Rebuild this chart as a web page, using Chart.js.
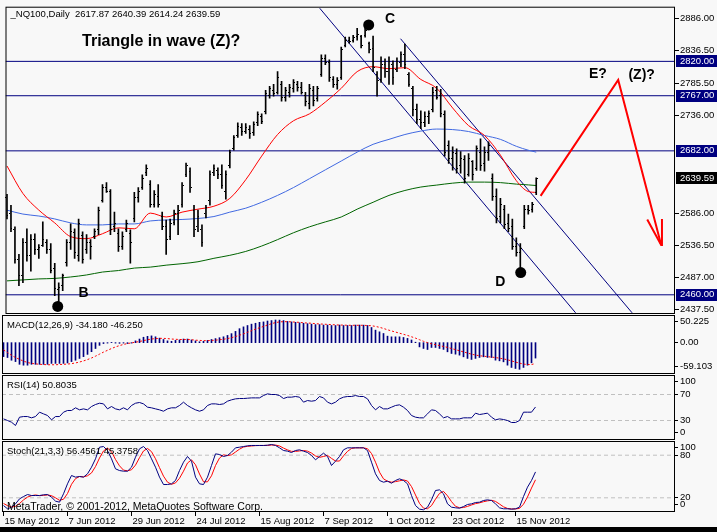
<!DOCTYPE html>
<html>
<head>
<meta charset="utf-8">
<title>NQ100 Daily</title>
<script src="https://cdn.jsdelivr.net/npm/chart.js@4.4.1/dist/chart.umd.min.js"></script>
<style>
  html, body { margin: 0; padding: 0; background: #f8f8f8; }
  #wrap { position: relative; width: 717px; height: 532px; overflow: hidden; background: #f8f8f8; }
  #wrap canvas { position: absolute; left: 0; top: 0; }
  #edge { position: absolute; left: 0; top: 527px; width: 717px; height: 5px; background: #000; }
</style>
</head>
<body>
<div id="wrap">
  <canvas id="main" width="717" height="532"></canvas>
  <canvas id="macd" width="717" height="532"></canvas>
  <canvas id="rsi" width="717" height="532"></canvas>
  <canvas id="stoch" width="717" height="532"></canvas>
  <div id="edge"></div>
</div>
<script>
// one bar per trading day, bar 0 = 15 May 2012
const dateLabels = ['15 May 2012', '7 Jun 2012', '29 Jun 2012', '24 Jul 2012', '15 Aug 2012',
                    '7 Sep 2012', '1 Oct 2012', '23 Oct 2012', '15 Nov 2012'];
const dateBars = [0, 16, 32, 48, 64, 80, 96, 112, 128];

const opens = [2610,2585,2560,2514,2490,2540,2520,2545,2530,2536,
  2540,2530,2500,2468,2474,2510,2540,2556,2520,2552,
  2530,2540,2550,2560,2605,2625,2620,2565,2555,2535,
  2560,2555,2578,2610,2625,2648,2630,2600,2612,2580,
  2565,2550,2572,2585,2600,2645,2650,2590,2565,2560,
  2585,2605,2648,2652,2645,2620,2660,2685,2705,2718,
  2712,2715,2710,2725,2735,2742,2768,2775,2772,2785,
  2765,2772,2778,2785,2780,2768,2755,2775,2762,2800,
  2824,2818,2792,2785,2795,2845,2852,2852,2858,2858,
  2860,2848,2840,2800,2792,2815,2805,2815,2808,2818,
  2830,2800,2778,2745,2730,2725,2735,2745,2775,2768,
  2738,2690,2670,2678,2660,2668,2645,2665,2655,2680,
  2662,2680,2640,2612,2580,2592,2570,2565,2535,2525,
  2565,2592,2592,2617.87];
const highs = [2614.8,2598.1,2564.8,2522.4,2546.6,2561.8,2552.7,2554.2,2537.5,2572.4,
  2545.1,2539.0,2508.7,2478.4,2492.1,2545.1,2569.4,2561.8,2576.9,2557.2,
  2552.7,2545.1,2561.8,2595.1,2629.9,2633.0,2622.4,2587.5,2561.8,2557.2,
  2575.4,2560.3,2617.9,2625.4,2645.1,2660.3,2636.0,2620.9,2629.9,2587.5,
  2575.4,2576.9,2590.6,2598.1,2633.0,2663.3,2655.7,2598.1,2590.6,2567.9,
  2598.1,2651.2,2660.3,2655.7,2660.3,2651.2,2683.0,2705.7,2725.4,2723.9,
  2723.9,2720.9,2726.9,2742.1,2739.0,2775.4,2781.5,2784.5,2804.2,2789.1,
  2780.0,2784.5,2792.1,2789.1,2787.6,2772.4,2784.5,2781.5,2781.5,2830.0,
  2830.0,2822.4,2796.6,2795.1,2842.1,2857.3,2857.3,2860.3,2870.9,2860.3,
  2872.0,2849.7,2858.8,2804.2,2827.0,2824.0,2827.0,2821.0,2825.5,2834.6,
  2846.7,2802.7,2781.5,2754.2,2743.6,2742.1,2743.6,2780.0,2781.5,2777.0,
  2743.6,2697.5,2688.3,2685.3,2680.8,2674.7,2677.7,2667.1,2689.9,2700.4,
  2688.3,2695.9,2646.6,2623.4,2608.6,2598.1,2584.5,2576.9,2548.0,2539.0,
  2598.1,2598.1,2602.7,2640.39];
const lows = [2576.9,2557.2,2508.7,2473.9,2478.6,2511.8,2496.6,2522.4,2516.3,2534.5,
  2523.9,2493.6,2458.7,2448.1,2466.3,2504.1,2530.0,2516.3,2511.8,2508.7,
  2523.9,2514.8,2546.6,2552.7,2602.7,2617.8,2552.7,2557.2,2526.9,2529.9,
  2557.2,2508.7,2572.4,2602.7,2622.4,2643.6,2595.1,2595.1,2595.1,2560.3,
  2522.4,2545.1,2567.9,2552.7,2595.1,2642.1,2617.8,2549.6,2557.2,2534.5,
  2578.4,2598.1,2643.6,2639.1,2623.9,2607.3,2655.7,2683.0,2702.7,2705.7,
  2708.7,2701.2,2705.7,2720.9,2723.9,2739.0,2763.3,2766.3,2769.3,2758.8,
  2758.8,2764.8,2772.4,2773.9,2769.3,2751.2,2746.6,2751.2,2758.8,2796.6,
  2814.8,2789.1,2779.9,2777.0,2792.1,2842.1,2848.2,2849.7,2852.7,2840.6,
  2857.3,2833.0,2804.2,2766.3,2787.6,2795.1,2784.5,2784.5,2804.2,2811.9,
  2808.9,2781.5,2736.0,2723.9,2716.3,2719.4,2723.9,2742.1,2761.8,2734.5,
  2673.9,2662.8,2652.3,2647.5,2647.5,2632.3,2642.8,2636.9,2652.0,2652.0,
  2650.5,2667.1,2605.7,2570.9,2570.9,2561.8,2557.2,2529.9,2519.4,2493.6,
  2561.8,2584.5,2587.5,2614.24];
const closes = [2582,2562,2515,2490,2540,2520,2545,2530,2533,2545,
  2530,2498,2470,2472,2490,2540,2558,2525,2570,2515,
  2540,2535,2558,2590,2625,2620,2560,2570,2535,2550,
  2570,2540,2610,2620,2640,2655,2600,2615,2600,2565,
  2545,2570,2585,2590,2628,2660,2625,2560,2580,2540,
  2595,2645,2655,2645,2628,2645,2680,2703,2720,2712,
  2718,2708,2722,2738,2728,2770,2778,2770,2795,2765,
  2775,2780,2788,2780,2772,2758,2778,2760,2778,2825,
  2818,2795,2785,2790,2838,2852,2850,2857,2862,2845,
  2868,2838,2810,2790,2815,2805,2820,2795,2820,2830,
  2815,2785,2745,2730,2725,2735,2740,2772,2765,2740,
  2680,2670,2680,2655,2670,2640,2670,2645,2685,2660,
  2680,2690,2612,2578,2600,2568,2562,2535,2525,2532,
  2592,2590,2600,2639.59];

// moving averages read at these bars
const maBars = [0,4,8,12,16,20,24,28,32,36,40,44,48,52,56,60,64,68,72,76,80,
  84,88,92,96,100,104,108,112,116,120,124,128,131,133];
const maFast = [2658.7,2616.3,2590.6,2570.9,2549.7,2546.6,2554.2,2563.3,2561.8,2586.0,
  2580.0,2587.5,2592.1,2596.6,2608.7,2637.5,2673.9,2707.2,2728.4,2739.0,
  2757.2,2778.4,2804.2,2811.8,2808.7,2810.3,2792.1,2778.4,2748.1,2720.9,
  2705.7,2675.4,2636.0,2619.3,2617.9];
const maMid = [2590.6,2584.5,2581.5,2577.0,2570.9,2567.8,2567.8,2569.3,2569.3,2573.9,
  2575.4,2576.2,2577.7,2580.7,2587.5,2593.6,2602.7,2613.3,2625.4,2639.0,
  2652.7,2666.3,2680.0,2692.1,2699.7,2707.2,2712.5,2715.6,2714.8,2711.8,
  2705.7,2699.7,2689.0,2683.0,2680.0];
const maSlow = [2481.5,2483.0,2484.5,2485.3,2487.5,2490.6,2495.1,2497.4,2501.2,2502.7,
  2505.7,2508.0,2511.0,2516.3,2520.9,2526.9,2535.2,2545.1,2555.7,2564.8,
  2572.4,2580.0,2592.1,2602.7,2613.3,2620.9,2626.2,2629.2,2632.2,2633.8,
  2633.8,2633.0,2630.7,2629.5,2628.5];

const levels = [2820, 2767, 2682, 2460];
const priceTicks = [2886, 2836.5, 2785.5, 2736, 2586, 2536.5, 2487, 2437.5];

// channel lines
const chanABars = [78.6, 142.9];
const chanAPrices = [2901.9, 2432.2];
const chanBBars = [98.9, 157.1];
const chanBPrices = [2854.9, 2432.2];

// projected path E? -> (Z)?
const projBars = [134.1, 153.6, 164.4];
const projPrices = [2612.5, 2791.3, 2536.7];
const arrowBars = [160.9, 164.4, 164.6];
const arrowPrices = [2576.1, 2536.7, 2576.9];

// wave pivots B, C, D
const dotBars = [12.75, 90.9, 129.1];
const dotPrices = [2442.0, 2876.2, 2494.3];

const noteTexts = ['Triangle in wave (Z)?', 'B', 'C', 'D', 'E?', '(Z)?'];
const noteBars = [38.75, 19.25, 96.25, 124, 148.5, 159.5];
const notePrices = [2850.4, 2462.5, 2885.2, 2479.2, 2800.4, 2798.1];

const macdMain = [-31,-33,-39,-42,-48,-50,-50,-48,-48,-48,
  -48,-48,-46,-46,-46,-46,-45,-42,-39,-35,
  -31,-26,-20,-13,-6,-2,-1,0.5,-1,-1.5,
  -1,-2,-1,4,8,12,14,15,13,10,
  7,4,3,5,6,8,8,6,4,2,
  3,5,7,9,11,13,16,20,25,31,
  35,38,41,43,45,46,48,49,50.225,50,
  49,47,46,45,44,43,42,41,40,40,
  39,39,38,38,39,38,38,38,39,39,
  38.8,38,33.6,27.7,24,20.3,14.4,12.9,12.9,12.9,
  11.5,9.4,5.9,1,-9.4,-12.9,-15.2,-10.7,-10.7,-12.9,
  -15,-20.3,-24,-25.5,-27.7,-31.4,-35,-37.3,-35,-32.9,
  -31.4,-32.9,-32.9,-38.8,-40.3,-42.5,-49.9,-55,-57.3,-59.103,
  -55,-50,-44.7,-34.18];
const macdSignal = [-16,-22,-28,-33,-37,-41,-44,-46,-47,-48,
  -48.5,-49,-49,-49,-48.5,-48,-47.5,-46.5,-45,-43,
  -40.5,-37.5,-34,-30,-25.5,-21,-17,-13,-9.5,-6.5,
  -4,-2,-0.5,1,2.5,4.5,6.5,8,9,9.5,
  9.5,9,8,7.5,7,7,7,6.5,5.5,5,
  4.5,4.5,5,5.5,6.5,7.5,9,11,13.5,16.5,
  19.5,23,26.5,30,33,36,39,42,44.5,46,
  46.5,46.5,46,45.5,45,44,43.5,43,42,41.5,
  41,40.5,40,39.5,39,39,38.5,38.5,38.5,38.5,
  38.5,38,37.5,36,34,31.5,28.5,26,23.5,21,
  18.5,16,13,10,6.5,3,0,-2.5,-4.5,-6.5,
  -8.5,-10.5,-13,-15.5,-18,-20.5,-23,-25.5,-27.5,-29,
  -30,-31,-32,-33,-34.5,-36,-38,-40.5,-43,-45.5,
  -47.5,-48.5,-48.5,-46.25];
const macdTicks = [50.225, 0, -59.103];
const macdTickText = ['50.225', '0.00', '-59.103'];

const rsi = [32.5,30,27.4,22.3,35.1,36.1,36.1,34.1,36.1,42.8,
  40.2,37.7,31,36.1,36.1,42.8,45.4,45.4,49.5,46.4,
  47.9,46.4,51.5,54.6,56.6,55.6,47.9,51.5,47.9,46.4,
  49.5,46.4,53.1,56.6,57.7,55.6,50.5,49.5,47.9,46.4,
  44.3,47.9,49.5,49.5,53.1,58.2,53.1,49.5,46.4,44.3,
  46.4,53.1,55.6,55.6,54.6,55.6,59.7,61.8,63.3,63.8,
  63.8,64.3,64.8,64.8,64.8,68.4,71,70,70,68.4,
  63.8,65.9,65.9,66.9,65.9,58.2,60.7,59.7,60.7,66.9,
  64.8,58.2,55.6,58.2,63.3,65.9,66.9,66.9,68.4,66.9,
  66.9,63.3,53.1,46.4,51.5,47.9,47.9,50.5,53.1,54.1,
  50.5,45.4,37.7,35.1,34.1,34.1,40.2,46.4,45.4,40.2,
  34.1,36.1,32.5,32.5,32.5,34.1,34.1,34.1,41.3,39.2,
  40.2,41.3,35.1,31,32.5,31.5,30,26.9,26.9,30,
  42.8,42.8,42.8,50.8035];
const rsiLevels = [70, 30];
const rsiTicks = [100, 70, 30, 0];

const stochMain = [9.1,4.5,6.8,11.5,18.5,21.8,24.6,23.2,23.2,23.2,
  24.2,24.6,20.9,15.3,13.8,25.6,39.7,51.4,49.1,50,
  49.1,53.8,63.1,74.9,91.3,92.2,86.6,74.9,60.8,58.4,
  57.5,57.5,63.1,77.2,89,92.2,86.6,74.9,63.1,49.1,
  38.7,38.7,39.7,44.4,58.4,70.2,78.2,71.6,49.1,39.7,
  38.7,49.1,65.5,81.9,81,78.2,79.6,84.3,90.4,91.3,
  92.2,93.2,93.7,93.7,93.7,93.7,94.1,95.1,93.7,90.4,
  86.6,85.7,83.8,86.6,87.6,85.7,83.8,79.6,73.5,78.2,
  82.9,78.2,65.5,71.6,78.2,87.6,90.4,90.4,90.4,90.4,
  90.4,86.6,70.2,53.8,44.4,42,43.4,40.6,44.4,46.7,
  44.4,39.7,23.2,9.1,4,3.1,6.8,17.1,30.3,31.2,
  25.6,11.5,6.8,5.9,5.4,7.7,10.6,11.5,13.4,13.8,
  16.2,17.1,16.2,11.5,5.9,4.5,4.5,4,4.5,6.8,
  21.8,35,44.4,56.4561];
const stochSignal = [12,9,7,8,12,17,21,23,24,23,
  23.5,24,23,20,16.5,18,26,39,47,50,
  49.5,51,55,64,76,86,90,85,74,65,
  59,58,59.5,66,76.5,86,89.5,85,75,62.5,
  50.5,42,39,41,47.5,57.5,69,73.5,66.5,53.5,
  42.5,42.5,51,65.5,76,80.5,79.5,80.5,84.5,88.5,
  91.5,92.5,93,93.5,93.7,93.7,93.8,94.3,94.3,93,
  90,87.5,85.4,85.4,86,86.6,85.7,83,79,77,
  78.2,79.7,75.5,71.8,71.8,79.1,85.4,89.5,90.4,90.4,
  90.4,89.1,82.4,70.2,56.1,46.7,43.3,42,42.8,43.9,
  45.2,43.6,35.8,24,12.1,5.4,4.6,9,18.1,26.2,
  29,22.8,14.6,8,6,6.3,7.9,9.9,11.8,12.9,
  14.5,15.7,16.5,14.9,11.2,7.3,5,4.3,4.3,5.1,
  11,21.2,33.7,45.3758];
const stochLevels = [80, 20];
const stochTicks = [100, 80, 20, 0];

// ---------------------------------------------------------------
const FONT = '"Liberation Sans", Arial, sans-serif';
const NAVY = '#000080';
const X_MIN = -0.375, X_MAX = 167.875;
const last = closes.length - 1;

Chart.defaults.font.family = FONT;
Chart.defaults.font.size = 9.5;
Chart.defaults.color = '#000';
Chart.defaults.animation = false;
Chart.defaults.events = [];
Chart.defaults.plugins.legend.display = false;
Chart.defaults.plugins.tooltip.enabled = false;
Chart.defaults.elements.point.radius = 0;
Chart.defaults.elements.line.borderWidth = 1;

const pts = (xs, ys) => xs.map((x, i) => ({ x: x, y: ys[i] }));
const series = ys => ys.map((y, i) => ({ x: i, y: y }));
const hline = v => [{ x: X_MIN, y: v }, { x: X_MAX, y: v }];

// panel frame, left caption, right axis texts, OHLC ticks and notes
const mtPanel = {
  id: 'mtPanel',
  afterDatasetsDraw(chart, args, o) {
    const ctx = chart.ctx, a = chart.chartArea;
    const xs = chart.scales.x, ys = chart.scales.y;
    ctx.save();
    ctx.fillStyle = '#000';
    if (o.ohlc) {
      for (let i = 0; i < opens.length; i++) {
        const c = Math.floor(xs.getPixelForValue(i));
        ctx.fillRect(c - 1, Math.floor(ys.getPixelForValue(opens[i])), 1, 1);
        ctx.fillRect(c + 1, Math.floor(ys.getPixelForValue(closes[i])), 1, 1);
      }
    }
    if (o.notes) {
      ctx.textAlign = 'center';
      ctx.textBaseline = 'middle';
      noteTexts.forEach((t, i) => {
        ctx.font = 'bold ' + (i === 0 ? 16 : 14) + 'px ' + FONT;
        ctx.fillText(t, xs.getPixelForValue(noteBars[i]), ys.getPixelForValue(notePrices[i]));
      });
    }
    ctx.strokeStyle = '#000';
    ctx.lineWidth = 1;
    ctx.strokeRect(a.left + 0.5, a.top + 0.5, a.right - a.left - 1, a.bottom - a.top - 1);

    ctx.font = '9.5px ' + FONT;
    ctx.textAlign = 'left';
    ctx.textBaseline = 'middle';
    ctx.fillStyle = '#000';
    if (o.title) ctx.fillText(o.title, a.left + 5, a.top + o.titleDy);
    if (o.footer) {
      ctx.font = '10.5px ' + FONT;
      ctx.fillText(o.footer, a.left + 5, a.bottom - 5);
      ctx.font = '9.5px ' + FONT;
    }
    (o.labels || []).forEach(l => {
      const p = ys.getPixelForValue(l.v);
      const yy = Math.min(Math.max(p, a.top + 6.5), a.bottom - 7.5);
      ctx.fillRect(a.right, Math.floor(yy), 3, 1);
      ctx.fillText(l.t, a.right + 5, yy);
    });
    (o.boxes || []).forEach(b => {
      const p = ys.getPixelForValue(b.v);
      ctx.fillStyle = b.bg;
      ctx.fillRect(a.right + 1, Math.round(p) - 6, 41, 12);
      ctx.fillStyle = '#fff';
      ctx.fillText(b.t, a.right + 5, p);
    });
    ctx.restore();
  }
};

function xAxis(show) {
  const ax = {
    type: 'linear', min: X_MIN, max: X_MAX, offset: false, display: show,
    afterBuildTicks: s => { s.ticks = dateBars.map(v => ({ value: v })); },
    ticks: { autoSkip: false, maxRotation: 0, align: 'start', labelOffset: 1, padding: 0,
             callback: (v, i) => dateLabels[i] },
    grid: { drawOnChartArea: false, tickLength: 4, color: '#000' },
    border: { display: false }
  };
  if (show) ax.afterFit = s => { s.height = 20; };
  return ax;
}

function panel(id, top, bottom, datasets, y, plug, showX) {
  return new Chart(document.getElementById(id), {
    type: 'line',
    data: { datasets: datasets },
    options: {
      responsive: false,
      devicePixelRatio: 1,
      layout: { padding: { left: 2, right: y.display ? 0 : 42, top: top, bottom: showX ? 0 : 532 - bottom } },
      scales: { x: xAxis(showX), y: y },
      plugins: { mtPanel: plug }
    },
    plugins: [mtPanel]
  });
}

// ---- price panel
const levelSets = levels.map(v => ({ data: hline(v), borderColor: NAVY, borderWidth: 1 }));
panel('main', 2, 314, [
  { data: pts(dotBars, dotPrices), showLine: false, pointRadius: 5.5,
    pointBackgroundColor: '#000', pointBorderWidth: 0 },
  { data: pts(arrowBars, arrowPrices), borderColor: '#ff0000', borderWidth: 2 },
  { data: pts(projBars, projPrices), borderColor: '#ff0000', borderWidth: 2 },
  { type: 'bar', data: highs.map((h, i) => ({ x: i, y: [lows[i], h] })),
    backgroundColor: '#000', barThickness: 1, grouped: false },
  { data: pts(maBars, maFast), borderColor: '#ff0000', cubicInterpolationMode: 'monotone' },
  { data: pts(maBars, maMid), borderColor: '#4169e1', cubicInterpolationMode: 'monotone' },
  { data: pts(maBars, maSlow), borderColor: '#006400', cubicInterpolationMode: 'monotone' },
  { data: pts(chanABars, chanAPrices), borderColor: NAVY },
  { data: pts(chanBBars, chanBPrices), borderColor: NAVY }
].concat(levelSets), {
  type: 'linear', position: 'right', min: 2430.4, max: 2904.3, display: true,
  afterBuildTicks: s => { s.ticks = priceTicks.map(v => ({ value: v })); },
  afterFit: s => { s.width = 42; },
  ticks: { autoSkip: false, padding: 1, callback: v => v.toFixed(2) },
  grid: { drawOnChartArea: false, tickLength: 4, color: '#000' },
  border: { display: false }
}, {
  title: '_NQ100,Daily  ' + [opens[last], highs[last], lows[last], closes[last]].map(v => v.toFixed(2)).join(' '),
  titleDy: 7.5, ohlc: true, notes: true,
  boxes: levels.map(v => ({ v: v, t: v.toFixed(2), bg: NAVY }))
    .concat([{ v: closes[last], t: closes[last].toFixed(2), bg: '#000' }])
}, false);

// ---- MACD
panel('macd', 315, 374, [
  { data: series(macdSignal), borderColor: '#ff0000', borderDash: [2, 2] },
  { type: 'bar', data: series(macdMain), backgroundColor: NAVY, barThickness: 1, grouped: false }
], { type: 'linear', min: -69.5, max: 61.3, display: false }, {
  title: 'MACD(12,26,9) ' + macdMain[last].toFixed(3) + ' ' + macdSignal[last].toFixed(3),
  titleDy: 10.5,
  labels: macdTicks.map((v, i) => ({ v: v, t: macdTickText[i] }))
}, false);

// ---- RSI
panel('rsi', 375, 440, [
  { data: series(rsi), borderColor: NAVY }
].concat(rsiLevels.map(v => ({ data: hline(v), borderColor: '#c0c0c0', borderDash: [4, 3] }))),
{ type: 'linear', min: 0, max: 100, display: false }, {
  title: 'RSI(14) ' + rsi[last].toFixed(4), titleDy: 10.5,
  labels: rsiTicks.map(v => ({ v: v, t: String(v) }))
}, false);

// ---- Stochastic
panel('stoch', 441, 512, [
  { data: series(stochMain), borderColor: NAVY },
  { data: series(stochSignal), borderColor: '#ff0000' }
].concat(stochLevels.map(v => ({ data: hline(v), borderColor: '#c0c0c0', borderDash: [4, 3] }))),
{ type: 'linear', min: 0, max: 100, display: false }, {
  title: 'Stoch(21,3,3) ' + stochMain[last].toFixed(4) + ' ' + stochSignal[last].toFixed(4),
  titleDy: 10,
  footer: 'MetaTrader, \u00a9 2001-2012, MetaQuotes Software Corp.',
  labels: stochTicks.map(v => ({ v: v, t: String(v) }))
}, true);
</script>
</body>
</html>
